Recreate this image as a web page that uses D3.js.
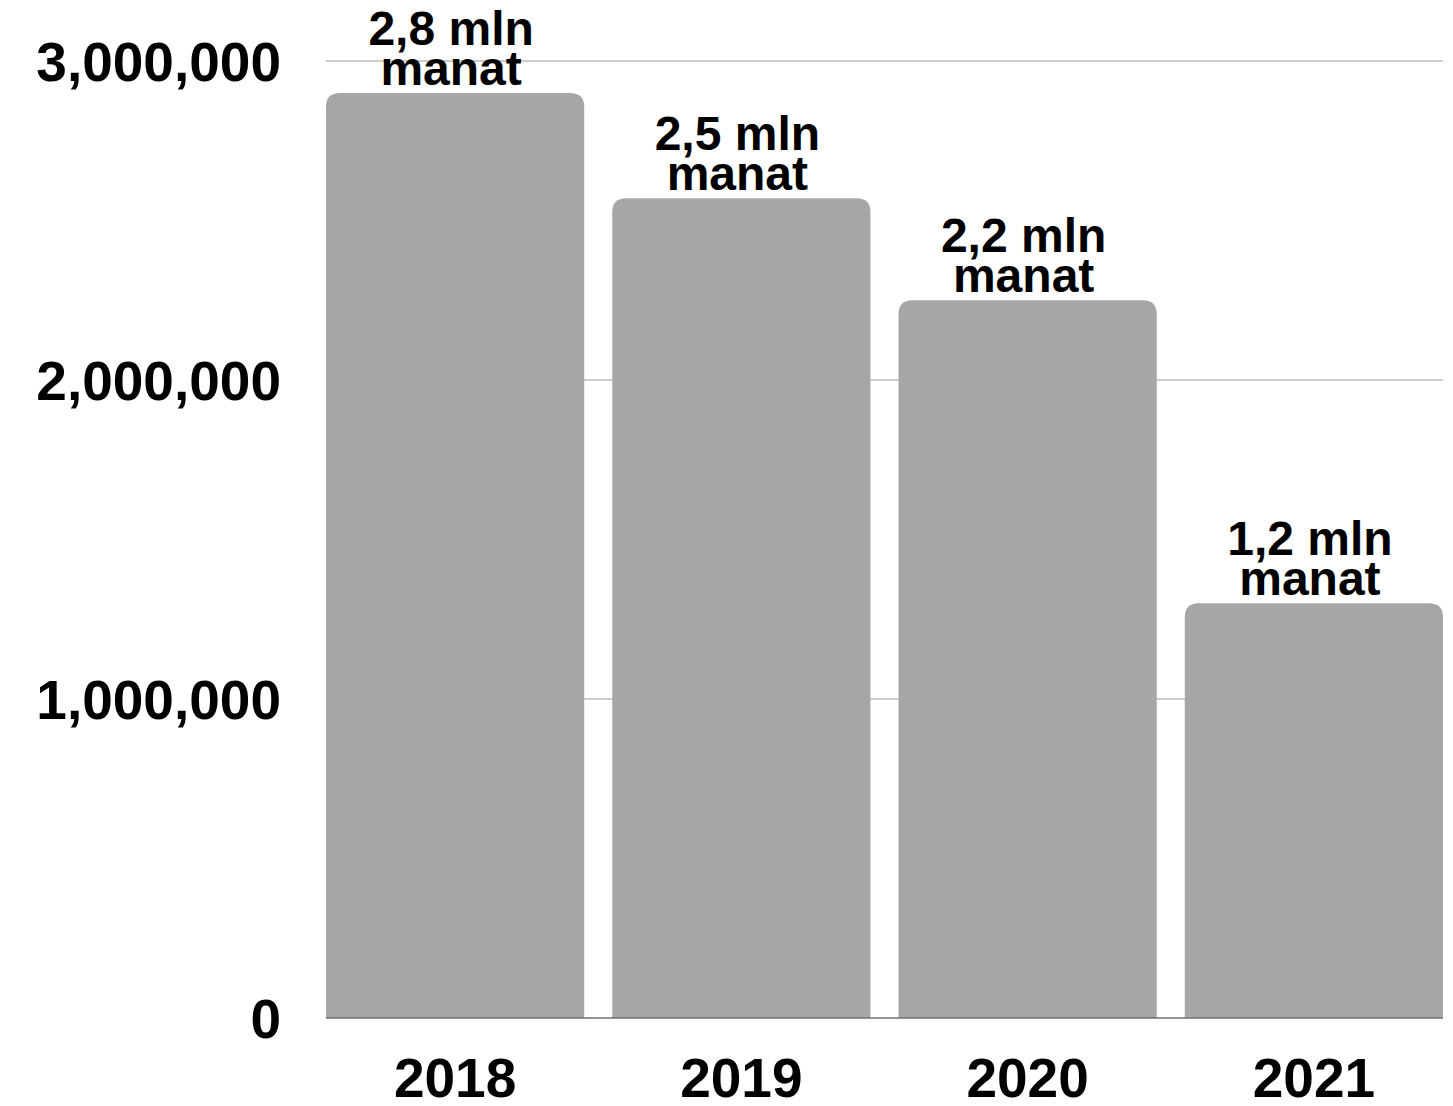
<!DOCTYPE html>
<html>
<head>
<meta charset="utf-8">
<script src="https://cdn.jsdelivr.net/npm/d3@7"></script>
<style>
  html, body { margin: 0; padding: 0; background: #fff; }
  svg { display: block; }
  text { font-family: "Liberation Sans", Arial, sans-serif; font-weight: bold; fill: #000; }
</style>
</head>
<body>
<svg id="chart" width="1453" height="1106"></svg>
<script>
const years = ["2018", "2019", "2020", "2021"];
const values = [2900000, 2570000, 2250000, 1300000];
const valueLabels = [["2,8 mln", "manat"], ["2,5 mln", "manat"], ["2,2 mln", "manat"], ["1,2 mln", "manat"]];
const yTicks = [0, 1000000, 2000000, 3000000];

const W = 1453, H = 1106;
const svg = d3.select("#chart");

const x = d3.scaleBand().domain(years).range([326, 1443]).paddingInner(0.098).paddingOuter(0);
const y = d3.scaleLinear().domain([0, 3000000]).range([1018, 61]);

// gridlines
svg.append("g").selectAll("line").data(yTicks.filter(d => d > 0)).join("line")
  .attr("x1", 326).attr("x2", 1443)
  .attr("y1", d => y(d)).attr("y2", d => y(d))
  .attr("stroke", "#bdbdbd").attr("stroke-width", 1.5);

// y tick labels
svg.append("g").selectAll("text").data(yTicks).join("text")
  .attr("x", 281).attr("y", d => y(d) + 20)
  .attr("text-anchor", "end")
  .style("font-size", "55px")
  .text(d => d3.format(",")(d));

// bars with rounded top corners
const r = 14;
function barPath(d, i) {
  const x0 = x(years[i]), w = x.bandwidth();
  const yt = y(d), yb = y(0);
  return `M${x0},${yb}V${yt + r}Q${x0},${yt} ${x0 + r},${yt}H${x0 + w - r}Q${x0 + w},${yt} ${x0 + w},${yt + r}V${yb}Z`;
}
svg.append("g").selectAll("path").data(values).join("path")
  .attr("d", barPath)
  .attr("fill", "#a6a6a6");

// baseline
svg.append("line")
  .attr("x1", 326).attr("x2", 1443)
  .attr("y1", y(0)).attr("y2", y(0))
  .attr("stroke", "#707070").attr("stroke-width", 1.5);

// value labels
const vl = svg.append("g").selectAll("text").data(values).join("text")
  .attr("text-anchor", "middle")
  .style("font-size", "48px");
vl.each(function(d, i) {
  const t = d3.select(this);
  const cx = x(years[i]) + x.bandwidth() / 2 - 4;
  t.append("tspan").attr("x", cx).attr("y", y(d) - 48).text(valueLabels[i][0]);
  t.append("tspan").attr("x", cx).attr("y", y(d) - 8).text(valueLabels[i][1]);
});

// x labels
svg.append("g").selectAll("text").data(years).join("text")
  .attr("x", d => x(d) + x.bandwidth() / 2)
  .attr("y", 1097)
  .attr("text-anchor", "middle")
  .style("font-size", "55px")
  .text(d => d);
</script>
</body>
</html>
